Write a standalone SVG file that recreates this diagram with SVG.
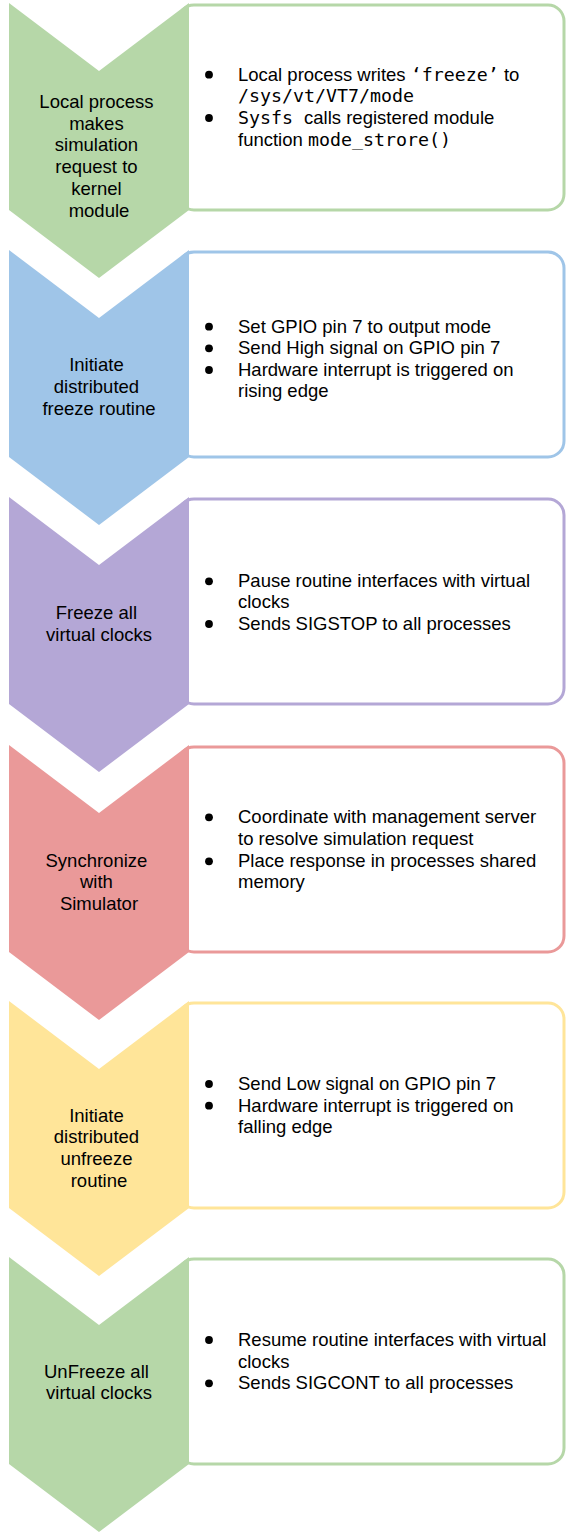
<svg xmlns="http://www.w3.org/2000/svg" width="570" height="1535" viewBox="0 0 570 1535">
  <style>
    text { font-family: "Liberation Sans", Arial, sans-serif; font-size: 18.5px; fill: #000; }
    .label { text-anchor: middle; }
    .mono { font-family: "DejaVu Sans Mono", "Liberation Mono", monospace; font-size: 18.3px; }
    .card { fill: #fff; stroke-width: 3; }
    .dot { fill: #000; }
    .green .chev { fill: #b6d7a8; } .green .card { stroke: #b6d7a8; }
    .blue .chev { fill: #9fc5e8; } .blue .card { stroke: #9fc5e8; }
    .purple .chev { fill: #b4a7d6; } .purple .card { stroke: #b4a7d6; }
    .red .chev { fill: #ea9999; } .red .card { stroke: #ea9999; }
    .yellow .chev { fill: #ffe599; } .yellow .card { stroke: #ffe599; }
  </style>
  <defs>
    <!-- step shape: chevron + detail card, local coordinates (top of step at y=0) -->
    <rect id="cardShape" x="178" y="2" width="386" height="205" rx="16" ry="16"/>
    <path id="chevShape" d="M9,0 L99,68 L189,0 L189,207 L99,275 L9,207 Z"/>
  </defs>

  <g id="step1" class="green" transform="translate(0,3)">
    <use href="#cardShape" class="card"/>
    <use href="#chevShape" class="chev"/>
    <text class="label" x="99">
      <tspan x="99" y="104.7">Local process</tspan>
      <tspan x="99" y="126.5">makes</tspan>
      <tspan x="99" y="148.3">simulation</tspan>
      <tspan x="99" y="170.1">request to</tspan>
      <tspan x="99" y="191.9">kernel</tspan>
      <tspan x="99" y="213.7">module</tspan>
    </text>
    <circle class="dot" cx="209" cy="71.7" r="3.9"/>
    <circle class="dot" cx="209" cy="115" r="3.9"/>
    <text x="238" y="77.7">Local process writes <tspan class="mono">‘freeze’</tspan> to</text>
    <text x="238" y="99.3" class="mono">/sys/vt/VT7/mode</text>
    <text x="238" y="121"><tspan class="mono">Sysfs </tspan>calls registered module</text>
    <text x="238" y="142.7">function <tspan class="mono">mode_strore()</tspan></text>
  </g>

  <g id="step2" class="blue" transform="translate(0,250)">
    <use href="#cardShape" class="card"/>
    <use href="#chevShape" class="chev"/>
    <text class="label">
      <tspan x="99" y="121">Initiate</tspan>
      <tspan x="99" y="142.8">distributed</tspan>
      <tspan x="99" y="164.6">freeze routine</tspan>
    </text>
    <circle class="dot" cx="209" cy="76.7" r="3.9"/>
    <circle class="dot" cx="209" cy="98.3" r="3.9"/>
    <circle class="dot" cx="209" cy="120" r="3.9"/>
    <text x="238" y="82.7">Set GPIO pin 7 to output mode</text>
    <text x="238" y="104.3">Send High signal on GPIO pin 7</text>
    <text x="238" y="126">Hardware interrupt is triggered on</text>
    <text x="238" y="147.3">rising edge</text>
  </g>

  <g id="step3" class="purple" transform="translate(0,497)">
    <use href="#cardShape" class="card"/>
    <use href="#chevShape" class="chev"/>
    <text class="label">
      <tspan x="99" y="122.3">Freeze all</tspan>
      <tspan x="99" y="143.7">virtual clocks</tspan>
    </text>
    <circle class="dot" cx="209" cy="84.3" r="3.9"/>
    <circle class="dot" cx="209" cy="127" r="3.9"/>
    <text x="238" y="90.3">Pause routine interfaces with virtual</text>
    <text x="238" y="111.3">clocks</text>
    <text x="238" y="133">Sends SIGSTOP to all processes</text>
  </g>

  <g id="step4" class="red" transform="translate(0,745)">
    <use href="#cardShape" class="card"/>
    <use href="#chevShape" class="chev"/>
    <text class="label">
      <tspan x="99" y="121.7">Synchronize</tspan>
      <tspan x="99" y="143.3">with</tspan>
      <tspan x="99" y="165.3">Simulator</tspan>
    </text>
    <circle class="dot" cx="209" cy="72.3" r="3.9"/>
    <circle class="dot" cx="209" cy="116.3" r="3.9"/>
    <text x="238" y="78.3">Coordinate with management server</text>
    <text x="238" y="100">to resolve simulation request</text>
    <text x="238" y="122.3">Place response in processes shared</text>
    <text x="238" y="143.3">memory</text>
  </g>

  <g id="step5" class="yellow" transform="translate(0,1001)">
    <use href="#cardShape" class="card"/>
    <use href="#chevShape" class="chev"/>
    <text class="label">
      <tspan x="99" y="120.7">Initiate</tspan>
      <tspan x="99" y="142.3">distributed</tspan>
      <tspan x="99" y="164.3">unfreeze</tspan>
      <tspan x="99" y="186.3">routine</tspan>
    </text>
    <circle class="dot" cx="209" cy="83" r="3.9"/>
    <circle class="dot" cx="209" cy="104.7" r="3.9"/>
    <text x="238" y="89">Send Low signal on GPIO pin 7</text>
    <text x="238" y="110.7">Hardware interrupt is triggered on</text>
    <text x="238" y="132.3">falling edge</text>
  </g>

  <g id="step6" class="green" transform="translate(0,1257)">
    <use href="#cardShape" class="card"/>
    <use href="#chevShape" class="chev"/>
    <text class="label">
      <tspan x="99" y="120.7">UnFreeze all</tspan>
      <tspan x="99" y="142">virtual clocks</tspan>
    </text>
    <circle class="dot" cx="209" cy="83" r="3.9"/>
    <circle class="dot" cx="209" cy="126.3" r="3.9"/>
    <text x="238" y="89">Resume routine interfaces with virtual</text>
    <text x="238" y="110.7">clocks</text>
    <text x="238" y="132.3">Sends SIGCONT to all processes</text>
  </g>
</svg>
